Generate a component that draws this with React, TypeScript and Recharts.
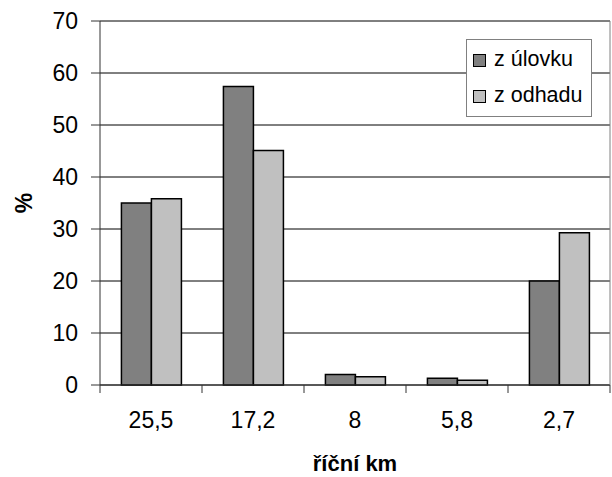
import { BarChart, Bar, XAxis, YAxis, CartesianGrid, Legend, ReferenceLine } from "recharts";

const categories = ["25,5", "17,2", "8", "5,8", "2,7"];
const zUlovku = [35, 57.4, 2.0, 1.3, 20];
const zOdhadu = [35.8, 45.1, 1.6, 0.9, 29.3];
const yTicks = [0, 10, 20, 30, 40, 50, 60, 70];

const SERIES = [
  { key: "ulovek", name: "z úlovku", color: "#808080" },
  { key: "odhad", name: "z odhadu", color: "#c0c0c0" },
];

const data = categories.map((km, i) => ({ km, ulovek: zUlovku[i], odhad: zOdhadu[i] }));

const W = 612;
const H = 477;
const Y_AXIS_W = 100;
const RIGHT_W = 2;
const PLOT_W = W - Y_AXIS_W - RIGHT_W;
const FONT = "'Liberation Sans', Arial, sans-serif";
const AXIS_COLOR = "#333";

// category labels sit in the middle, tick marks go on the band edges
const XTick = (props: any) => {
  const { x, y, payload, index } = props;
  const half = PLOT_W / categories.length / 2;
  const axisY = y - 8;
  return (
    <g>
      <line x1={x - half} x2={x - half} y1={axisY} y2={axisY + 8} stroke={AXIS_COLOR} />
      {index === categories.length - 1 && (
        <line x1={x + half} x2={x + half} y1={axisY} y2={axisY + 8} stroke={AXIS_COLOR} />
      )}
      <text x={x} y={y + 35} textAnchor="middle" fontSize={23} fontFamily={FONT} fill="#000">
        {payload.value}
      </text>
    </g>
  );
};

const LegendBox = () => (
  <div
    style={{
      width: 124,
      height: 72,
      padding: "2px 0",
      border: "1px solid #808080",
      background: "#fff",
      fontFamily: FONT,
      fontSize: 21.5,
      color: "#000",
    }}
  >
    {SERIES.map((s) => (
      <div key={s.key} style={{ height: 36, display: "flex", alignItems: "center" }}>
        <span
          style={{
            display: "inline-block",
            width: 11,
            height: 11,
            marginLeft: 6,
            marginRight: 8,
            background: s.color,
            border: "1.5px solid #000",
          }}
        />
        <span style={{ lineHeight: 1 }}>{s.name}</span>
      </div>
    ))}
  </div>
);

export default function App() {
  return (
    <div style={{ position: "absolute", left: 0, top: 0, width: W, height: H, background: "#fff" }}>
      <BarChart
        width={W}
        height={H}
        data={data}
        margin={{ top: 21, right: 0, left: 0, bottom: 0 }}
        barCategoryGap="21%"
        barGap={0}
      >
        <CartesianGrid vertical={false} stroke="#000" />
        <ReferenceLine y={70} stroke="#808080" />
        <XAxis
          dataKey="km"
          height={92}
          tickLine={false}
          tickSize={8}
          tickMargin={0}
          axisLine={{ stroke: AXIS_COLOR }}
          tick={<XTick />}
          label={() => (
            <text x={355} y={471} textAnchor="middle" fontSize={22} fontWeight="bold" fontFamily={FONT} fill="#000">
              říční km
            </text>
          )}
        />
        <YAxis
          domain={[0, 70]}
          ticks={yTicks}
          width={Y_AXIS_W}
          tickSize={9}
          tickMargin={13}
          axisLine={{ stroke: AXIS_COLOR }}
          tickLine={{ stroke: AXIS_COLOR }}
          tick={{ fontSize: 23, fontFamily: FONT, fill: "#000" }}
          label={() => (
            <text
              x={24}
              y={203}
              transform="rotate(-90 24 203)"
              textAnchor="middle"
              dominantBaseline="central"
              fontSize={23}
              fontWeight="bold"
              fontFamily={FONT}
              fill="#000"
            >
              %
            </text>
          )}
        />
        <YAxis
          yAxisId="right"
          orientation="right"
          width={RIGHT_W}
          tick={false}
          tickLine={false}
          axisLine={{ stroke: "#808080" }}
        />
        <Legend
          layout="horizontal"
          verticalAlign="middle"
          align="center"
          content={<LegendBox />}
          wrapperStyle={{ left: 466, top: 39, width: "auto" }}
        />
        {SERIES.map((s) => (
          <Bar
            key={s.key}
            dataKey={s.key}
            name={s.name}
            fill={s.color}
            stroke="#000"
            strokeWidth={1.5}
            isAnimationActive={false}
          />
        ))}
      </BarChart>
    </div>
  );
}
